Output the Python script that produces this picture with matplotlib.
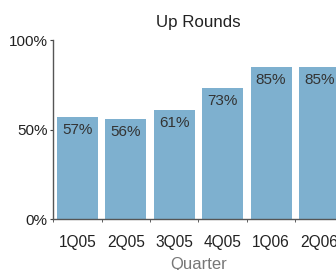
import matplotlib
matplotlib.use("Agg")
import matplotlib.pyplot as plt
from matplotlib.ticker import FixedLocator

quarters = ["1Q05", "2Q05", "3Q05", "4Q05", "1Q06", "2Q06"]
up_pct = [57, 56, 61, 73, 85, 85]
y_ticks = [0, 50, 100]
y_tick_labels = ["0%", "50%", "100%"]

plt.rcParams['font.family'] = ['Liberation Sans', 'DejaVu Sans']

fig = plt.figure(figsize=(3.36, 2.70), dpi=100)
ax = fig.add_axes([53/336, 1 - 219.3/270, 290.7/336, 179.3/270])

x = list(range(len(quarters)))
bars = ax.bar(x, up_pct, width=0.847, color='#7eb0cf', zorder=2)
for xi, v in zip(x, up_pct):
    ax.text(xi, v - 7.3, f"{v}%", ha='center', va='center', fontsize=11, color='#333333')

ax.set_xlim(-0.506, 5.5)
ax.set_ylim(0, 100)
ax.set_xticks(x)
ax.set_xticklabels(quarters, fontsize=11.2, color='#222222')
ax.xaxis.set_minor_locator(FixedLocator([i + 0.5 for i in range(-1, len(quarters))]))
ax.tick_params(axis='x', which='major', length=0, pad=11)
ax.tick_params(axis='x', which='minor', length=2, color='#444444', direction='out')
ax.set_yticks(y_ticks)
ax.set_yticklabels(y_tick_labels, fontsize=11, color='#222222')
ax.tick_params(axis='y', length=2, color='#444444', pad=2)

for s in ['top', 'right']:
    ax.spines[s].set_visible(False)
for s in ['left', 'bottom']:
    ax.spines[s].set_color('#555555')
    ax.spines[s].set_linewidth(1.0)

ax.set_title("Up Rounds", fontsize=12.2, color='#222222', pad=9)
ax.set_xlabel("Quarter", fontsize=12, color='#777777', labelpad=5)

fig.savefig("out.png", dpi=100)
